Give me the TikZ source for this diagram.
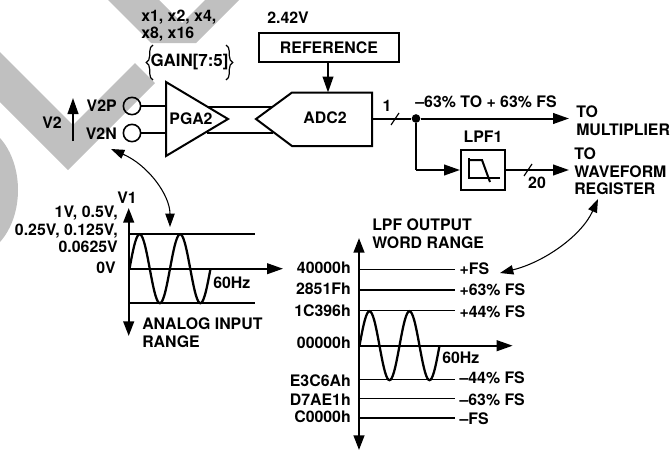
\documentclass[tikz,border=0pt]{standalone}
\usepackage{fontspec}
\setmainfont{TeX Gyre Heros}
\usetikzlibrary{arrows.meta, decorations.pathreplacing}
\definecolor{xGray}{RGB}{192,192,192}
\tikzset{
  lab/.style={font=\fontsize{11.9}{13.2}\selectfont\bfseries, inner sep=0pt},
  labl/.style={lab, anchor=west, align=left},
  labr/.style={lab, anchor=east, align=right},
  blk/.style={draw, line width=1.5pt, inner sep=0pt},
  sig/.style={line width=1.5pt},
  sigarr/.style={line width=1.5pt, -{Triangle[length=12pt,width=8pt]}},
  axisarr/.style={line width=1.7pt, {Triangle[length=11pt,width=8pt]}-{Triangle[length=11pt,width=8pt]}},
  thinline/.style={line width=0.9pt},
  swing/.style={line width=0.8pt, {Triangle[length=10pt,width=7pt]}-{Triangle[length=10pt,width=7pt]}},
  wave/.style={line width=1.7pt, smooth, samples=73, domain=0:720},
  pin/.style={circle, draw, line width=1.2pt, minimum size=13pt, inner sep=0pt},
  slash/.style={line width=0.9pt},
  curly/.style={line width=0.9pt, decorate, decoration={brace, amplitude=5pt}},
}
\begin{document}
\begin{tikzpicture}[x=0.75pt,y=-0.75pt]
    \useasboundingbox (0,0) rectangle (671,450);
    \fill[xGray] (0,52) -- (73,125) -- (135,63) -- (155,83) -- (68,170) -- (0,102) -- cycle;
    \fill[xGray] (108,0) -- (159,0) -- (182,23) -- (205,0) -- (239,0) -- (196,43) -- (151,43) -- cycle;
    \fill[xGray] (0,138) .. controls (24,165) and (24,215) .. (0,242) -- cycle;

    \node[lab] (v2) at (52,123) {V2};
    \coordinate (v2low) at (73,141);
    \coordinate (v2top) at (73,98);
    \node[labr] (v2plab) at (117,106) {V2P};
    \node[labr] (v2nlab) at (117,134) {V2N};
    \node[pin] (v2p) at (132,106) {};
    \node[pin] (v2n) at (132,133) {};
    \draw[sigarr] (v2low) -- (v2top);

    \draw[blk] (166,82) -- (228,119) -- (166,156) -- cycle;
    \node[lab] (pga) at (191,119) {PGA2};
    \coordinate (pgaina) at (166,106);
    \coordinate (pgainb) at (166,133);
    \coordinate (pgaouta) at (207,106.5);
    \coordinate (pgaoutb) at (207,132.5);
    \draw[blk] (256,119) -- (292,92.5) -- (372,92.5) -- (372,146) -- (292,146) -- cycle;
    \node[lab] (adc) at (325,118) {ADC2};
    \coordinate (adcina) at (273,106.5);
    \coordinate (adcinb) at (273,132.5);
    \coordinate (adctop) at (328,92.5);
    \coordinate (adcout) at (372,118.5);
    \draw[sig] (v2p) -- (pgaina);
    \draw[sig] (v2n) -- (pgainb);
    \draw[sig] (pgaouta) -- (adcina);
    \draw[sig] (pgaoutb) -- (adcinb);

    \node[labl] (gainlist) at (141,25.5) {x1, x2, x4,\\x8, x16};
    \node[lab, font=\fontsize{12.7}{14}\selectfont\bfseries] (gain) at (189.5,62) {GAIN[7:5]};
    \draw[curly] (153,80) -- (153,45);
    \draw[curly] (226,45) -- (226,80);

    \node[lab] (vref) at (288,18) {2.42V};
    \node[blk, lab, draw, minimum width=105pt, minimum height=21.8pt] (ref) at (329,47.5) {REFERENCE};
    \draw[sigarr] (ref.south -| adctop) -- (adctop);

    \node[circle, fill, minimum size=6.5pt, inner sep=0pt] (dot) at (416,118.5) {};
    \coordinate (mult) at (569,118.5);
    \draw[sig] (adcout) -- (dot);
    \draw[sigarr] (dot) -- (mult);
    \draw[slash] (391,125) -- (399,113);
    \node[lab] (one) at (387,106) {1};
    \node[lab] (swingtxt) at (486,102) {--63\% TO + 63\% FS};
    \node[labl] (tomult) at (576,121) {TO\\MULTIPLIER};

    \node[blk, minimum width=33pt, minimum height=30.4pt] (lpf) at (483,170) {};
    \node[lab] (lpflab) at (483,137) {LPF1};
    \coordinate (bend) at (416,170);
    \coordinate (wfreg) at (569,170);
    \draw[sig] (dot) -- (bend);
    \draw[sigarr] (bend) -- (lpf);
    \draw[sigarr] (lpf) -- (wfreg);
    \draw[slash] (524,176) -- (532,164);
    \node[lab] (twenty) at (537,183) {20};
    \draw[sig] (500,178) -- (468,178);
    \draw[sig] (469,158) -- (469,178);
    \draw[sig] (469,160) -- (482,160) -- (490,182);
    \node[labl] (towave) at (574,171.5) {TO\\WAVEFORM\\REGISTER};

    % analog input chart
    \coordinate (vtop) at (128.7,208);
    \coordinate (vbot) at (128.7,336);
    \coordinate (vorg) at (128,268.7);
    \coordinate (vend) at (283,268.7);
    \draw[thinline] (129,234) -- (255,234);
    \draw[thinline] (129,303) -- (255,303);
    \draw[wave] plot ({129.5+\x/720*81},{268.7-34.5*sin(\x)});
    \draw[axisarr] (vtop) -- (vbot);
    \draw[sigarr] (vorg) -- (vend);
    \node[lab] (v1) at (127,198) {V1};
    \node[labr] (vrange) at (118,229.5) {1V, 0.5V,\\0.25V, 0.125V,\\0.0625V};
    \node[labr] (vzero) at (116,268) {0V};
    \node[labl] (vhz) at (213,283) {60Hz};
    \node[labl] (anarange) at (142,333) {ANALOG INPUT\\RANGE};

    % lpf output chart
    \coordinate (wtop) at (359,238);
    \coordinate (wbot) at (359,450);
    \coordinate (worg) at (358,345.7);
    \coordinate (wend) at (512.7,345.7);
    \foreach \yy in {269.3,290,310.7,379.7,398.7,418}
      \draw[thinline] (359,\yy) -- (455,\yy);
    \draw[wave] plot ({359.5+\x/720*80},{345.7-34.5*sin(\x)});
    \draw[axisarr] (wtop) -- (wbot);
    \draw[sigarr] (worg) -- (wend);
    \node[labl] (wordrange) at (372,234) {LPF OUTPUT\\WORD RANGE};
    \node[labr] (hexa) at (351,267.7) {40000h};
    \node[labr] (hexb) at (351,289) {2851Fh};
    \node[labr] (hexc) at (351,311) {1C396h};
    \node[labr] (hexd) at (351,342.7) {00000h};
    \node[labr] (hexe) at (351,380.7) {E3C6Ah};
    \node[labr] (hexf) at (351,399.3) {D7AE1h};
    \node[labr] (hexg) at (351,416.7) {C0000h};
    \node[labl] (fsa) at (459.3,269) {+FS};
    \node[labl] (fsb) at (459.3,290) {+63\% FS};
    \node[labl] (fsc) at (459.3,311.7) {+44\% FS};
    \node[labl] (fse) at (459.3,377.7) {--44\% FS};
    \node[labl] (fsf) at (459.3,400) {--63\% FS};
    \node[labl] (fsg) at (459.3,419) {--FS};
    \node[labl] (whz) at (442,358) {60Hz};

    % swing arrows
    \coordinate (swaa) at (111,149);
    \coordinate (swab) at (170,227);
    \coordinate (swba) at (598,199);
    \coordinate (swbb) at (500,273);
    \draw[swing] (swaa) .. controls (148,165) and (170,195) .. (swab);
    \draw[swing] (swba) .. controls (582,235) and (545,262) .. (swbb);
  \end{tikzpicture}
\end{document}
